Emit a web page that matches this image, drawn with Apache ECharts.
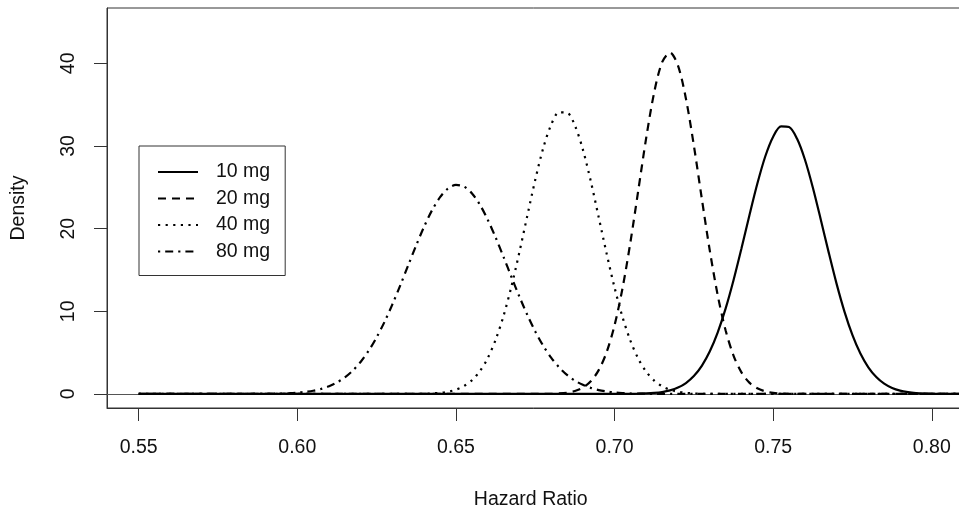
<!DOCTYPE html>
<html>
<head>
<meta charset="utf-8">
<script src="https://cdn.jsdelivr.net/npm/echarts@6/dist/echarts.min.js"></script>
<style>
  html, body { margin: 0; padding: 0; background: #fff; }
  #chart { width: 959px; height: 514px; }
</style>
</head>
<body>
<div id="chart"></div>
<script>
// hazard ratio grid (x) and density for each dose
var hazardRatio = [
  0.5500, 0.5525, 0.5550, 0.5575, 0.5600, 0.5625, 0.5650, 0.5675, 0.5700, 0.5725,
  0.5750, 0.5775, 0.5800, 0.5825, 0.5850, 0.5875, 0.5900, 0.5925, 0.5950, 0.5975,
  0.6000, 0.6025, 0.6050, 0.6075, 0.6100, 0.6125, 0.6150, 0.6175, 0.6200, 0.6225,
  0.6250, 0.6275, 0.6300, 0.6325, 0.6350, 0.6375, 0.6400, 0.6425, 0.6450, 0.6475,
  0.6500, 0.6525, 0.6550, 0.6575, 0.6600, 0.6625, 0.6650, 0.6675, 0.6700, 0.6725,
  0.6750, 0.6775, 0.6800, 0.6825, 0.6850, 0.6875, 0.6900, 0.6925, 0.6950, 0.6975,
  0.7000, 0.7025, 0.7050, 0.7075, 0.7100, 0.7125, 0.7150, 0.7175, 0.7200, 0.7225,
  0.7250, 0.7275, 0.7300, 0.7325, 0.7350, 0.7375, 0.7400, 0.7425, 0.7450, 0.7475,
  0.7500, 0.7525, 0.7550, 0.7575, 0.7600, 0.7625, 0.7650, 0.7675, 0.7700, 0.7725,
  0.7750, 0.7775, 0.7800, 0.7825, 0.7850, 0.7875, 0.7900, 0.7925, 0.7950, 0.7975,
  0.8000, 0.8025, 0.8050, 0.8075, 0.8100
];

var dens10 = [
  0, 0, 0, 0, 0, 0, 0, 0, 0, 0,
  0, 0, 0, 0, 0, 0, 0, 0, 0, 0,
  0, 0, 0, 0, 0, 0, 0, 0, 0, 0,
  0, 0, 0, 0, 0, 0, 0, 0, 0, 0,
  0, 0, 0, 0, 0, 0, 0, 0, 0, 0,
  0, 0, 0, 0, 0, 0, 0, 0, 0, 0,
  0, 0, 0.01, 0.03, 0.06, 0.12, 0.23, 0.43, 0.77, 1.32,
  2.16, 3.40, 5.13, 7.43, 10.32, 13.76, 17.60, 21.60, 25.43, 28.73,
  31.13, 32.37, 32.29, 30.90, 28.37, 24.99, 21.12, 17.13, 13.32, 9.94,
  7.12, 4.89, 3.22, 2.04, 1.24, 0.72, 0.40, 0.22, 0.11, 0.05,
  0.03, 0.01, 0, 0, 0
];

var dens20 = [
  0, 0, 0, 0, 0, 0, 0, 0, 0, 0,
  0, 0, 0, 0, 0, 0, 0, 0, 0, 0,
  0, 0, 0, 0, 0, 0, 0, 0, 0, 0,
  0, 0, 0, 0, 0, 0, 0, 0, 0, 0,
  0, 0, 0, 0, 0, 0, 0, 0, 0, 0,
  0, 0.01, 0.02, 0.06, 0.15, 0.35, 0.76, 1.53, 2.88, 5.05,
  8.31, 12.77, 18.36, 24.69, 31.04, 36.50, 40.14, 41.29, 39.72, 35.73,
  30.06, 23.65, 17.40, 11.98, 7.71, 4.64, 2.61, 1.37, 0.68, 0.31,
  0.13, 0.05, 0.02, 0.01, 0, 0, 0, 0, 0, 0,
  0, 0, 0, 0, 0, 0, 0, 0, 0, 0,
  0, 0, 0, 0, 0
];

var dens40 = [
  0, 0, 0, 0, 0, 0, 0, 0, 0, 0,
  0, 0, 0, 0, 0, 0, 0, 0, 0, 0,
  0, 0, 0, 0, 0, 0, 0, 0, 0, 0,
  0, 0, 0, 0, 0, 0.01, 0.03, 0.07, 0.14, 0.27,
  0.52, 0.95, 1.64, 2.73, 4.32, 6.54, 9.44, 13.02, 17.15, 21.57,
  25.91, 29.73, 32.56, 34.07, 34.04, 32.48, 29.59, 25.75, 21.39, 16.98,
  12.87, 9.31, 6.44, 4.25, 2.68, 1.61, 0.93, 0.51, 0.27, 0.13,
  0.06, 0.03, 0.01, 0, 0, 0, 0, 0, 0, 0,
  0, 0, 0, 0, 0, 0, 0, 0, 0, 0,
  0, 0, 0, 0, 0, 0, 0, 0, 0, 0,
  0, 0, 0, 0, 0
];

var dens80 = [
  0, 0, 0, 0, 0, 0, 0, 0, 0, 0,
  0, 0, 0, 0, 0, 0.01, 0.02, 0.03, 0.05, 0.09,
  0.15, 0.25, 0.39, 0.61, 0.94, 1.39, 2.01, 2.83, 3.90, 5.23,
  6.85, 8.73, 10.87, 13.19, 15.61, 18.01, 20.27, 22.25, 23.81, 24.85,
  25.29, 25.10, 24.29, 22.93, 21.10, 18.94, 16.58, 14.15, 11.78, 9.56,
  7.57, 5.84, 4.40, 3.23, 2.31, 1.61, 1.10, 0.73, 0.47, 0.30,
  0.18, 0.11, 0.06, 0.04, 0.02, 0.01, 0, 0, 0, 0,
  0, 0, 0, 0, 0, 0, 0, 0, 0, 0,
  0, 0, 0, 0, 0, 0, 0, 0, 0, 0,
  0, 0, 0, 0, 0, 0, 0, 0, 0, 0,
  0, 0, 0, 0, 0
];

var doseNames = ['10 mg', '20 mg', '40 mg', '80 mg'];
var xTicks = [0.55, 0.60, 0.65, 0.70, 0.75, 0.80];
var yTicks = [0, 10, 20, 30, 40];

var FONT = '"Liberation Sans", Arial, Helvetica, sans-serif';
var INK = '#333';

function pairs(ys) {
  return hazardRatio.map(function(x, i) { return [x, ys[i]]; });
}

function densitySeries(name, ys, dash, extra) {
  var s = {
    name: name,
    type: 'line',
    data: pairs(ys),
    symbol: 'none',
    smooth: 0.3,
    z: 3,
    lineStyle: { color: '#000', width: 2.2, type: dash, cap: 'butt' },
    itemStyle: { color: '#000' }
  };
  return Object.assign(s, extra || {});
}

var chart = echarts.init(document.getElementById('chart'), null, { renderer: 'canvas' });

chart.setOption({
  animation: false,
  backgroundColor: '#fff',
  textStyle: { fontFamily: FONT },
  grid: {
    left: 107, top: 8, width: 856.5, height: 400,
    show: true, borderColor: INK, borderWidth: 1,
    outerBoundsMode: 'none'
  },
  legend: {
    left: 139, top: 146, orient: 'vertical',
    borderColor: INK, borderWidth: 1,
    padding: [16, 15, 14, 18],
    itemWidth: 40, itemHeight: 14, itemGap: 6.5,
    // hide the marker dot, keep only the line sample
    itemStyle: { color: 'rgba(0,0,0,0)', borderWidth: 0, opacity: 0 },
    textStyle: { fontFamily: FONT, fontSize: 19.5, color: '#111', lineHeight: 19, padding: [0, 0, 0, 13] },
    data: doseNames
  },
  xAxis: {
    type: 'value', min: 0.54, max: 0.81,
    name: 'Hazard Ratio', nameLocation: 'middle', nameGap: 82,
    nameMoveOverlap: false,
    nameTextStyle: { fontFamily: FONT, fontSize: 19.5, color: '#111', padding: [0, 9, 0, 0] },
    axisLine: { show: true, onZero: false, lineStyle: { color: INK, width: 1 } },
    axisTick: { show: true, inside: false, length: 13, customValues: xTicks, lineStyle: { color: INK, width: 1 } },
    axisLabel: {
      customValues: xTicks, margin: 30,
      fontFamily: FONT, fontSize: 19.5, color: '#111',
      formatter: function(v) { return v.toFixed(2); }
    },
    splitLine: { show: false }
  },
  yAxis: {
    type: 'value', min: -1.7, max: 46.7,
    name: 'Density', nameLocation: 'middle', nameGap: 78, nameRotate: 90,
    nameMoveOverlap: false,
    nameTextStyle: { fontFamily: FONT, fontSize: 19.5, color: '#111' },
    axisLine: { show: true, onZero: false, lineStyle: { color: INK, width: 1 } },
    axisTick: { show: true, inside: false, length: 13, customValues: yTicks, lineStyle: { color: INK, width: 1 } },
    axisLabel: {
      customValues: yTicks, margin: 28, rotate: 90,
      fontFamily: FONT, fontSize: 19.5, color: '#111'
    },
    splitLine: { show: false }
  },
  series: [
    densitySeries(doseNames[0], dens10, 'solid', {
      markLine: {
        silent: true, symbol: ['none', 'none'], z: 1,
        label: { show: false },
        lineStyle: { color: '#555', width: 1, type: 'solid' },
        data: [{ yAxis: 0 }]
      }
    }),
    densitySeries(doseNames[1], dens20, [8, 6]),
    densitySeries(doseNames[2], dens40, [2.2, 5.4]),
    densitySeries(doseNames[3], dens80, [2.2, 5, 8, 5])
  ]
});
</script>
</body>
</html>
